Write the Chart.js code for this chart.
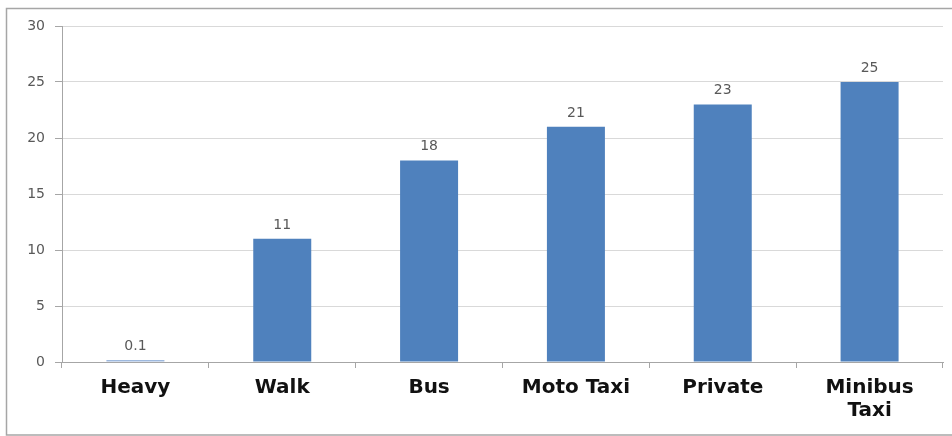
<!DOCTYPE html>
<html>
<head>
<meta charset="utf-8">
<script src="https://cdn.jsdelivr.net/npm/chart.js@4"></script>
<style>
html,body{margin:0;padding:0;background:#fff;}
#wrap{position:relative;width:952px;height:436px;}
</style>
</head>
<body>
<div id="wrap"><canvas id="c" width="952" height="436"></canvas></div>
<script>
const categories = ["Heavy", "Walk", "Bus", "Moto Taxi", "Private", ["Minibus", "Taxi"]];
const values = [0.1, 11, 18, 21, 23, 25];
const valueLabels = ["0.1", "11", "18", "21", "23", "25"];
const yTicks = [0, 5, 10, 15, 20, 25, 30];

const frame = {
  id: 'frame',
  beforeDraw(chart) {
    const ctx = chart.ctx;
    ctx.save();
    ctx.strokeStyle = '#a6a6a6';
    ctx.lineWidth = 1.5;
    ctx.strokeRect(6.5, 8.5, 970, 426.5);
    ctx.restore();
  }
};

const valueLabelPlugin = {
  id: 'valueLabels',
  afterDatasetsDraw(chart) {
    const ctx = chart.ctx;
    const meta = chart.getDatasetMeta(0);
    ctx.save();
    ctx.font = '14px "DejaVu Sans"';
    ctx.fillStyle = '#595959';
    ctx.textAlign = 'center';
    ctx.textBaseline = 'alphabetic';
    meta.data.forEach((bar, i) => {
      ctx.fillText(valueLabels[i], bar.x, bar.y - 10);
    });
    ctx.restore();
  }
};

new Chart(document.getElementById('c'), {
  type: 'bar',
  data: {
    labels: categories,
    datasets: [{
      data: values,
      backgroundColor: ['#9DB8DD', '#4F81BD', '#4F81BD', '#4F81BD', '#4F81BD', '#4F81BD'],
      borderWidth: 0,
      minBarLength: 2,
      barPercentage: 0.395,
      categoryPercentage: 1.0
    }]
  },
  options: {
    responsive: false,
    animation: false,
    devicePixelRatio: 1,
    layout: { padding: { top: 26, right: 9, left: 0, bottom: 0 } },
    plugins: { legend: { display: false }, tooltip: { enabled: false } },
    scales: {
      x: {
        offset: true,
        grid: {
          display: true,
          offset: true,
          drawOnChartArea: false,
          drawTicks: true,
          tickLength: 6,
          tickColor: '#a6a6a6',
          color: '#a6a6a6'
        },
        border: { display: true, color: '#a6a6a6', width: 1 },
        ticks: {
          color: '#111',
          font: { family: '"DejaVu Sans"', size: 20, weight: 'bold', lineHeight: 1.15 },
          padding: 8,
          maxRotation: 0,
          autoSkip: false
        },
        afterFit(scale) { scale.height = 74; }
      },
      y: {
        min: 0,
        max: 30,
        afterBuildTicks(scale) { scale.ticks = yTicks.map(v => ({ value: v })); },
        grid: {
          color: '#d9d9d9',
          tickColor: '#a6a6a6',
          tickLength: 7,
          drawTicks: true
        },
        border: { display: true, color: '#a6a6a6', width: 1 },
        ticks: {
          color: '#595959',
          font: { family: '"DejaVu Sans"', size: 14 },
          padding: 10
        },
        afterFit(scale) { scale.width = 62; }
      }
    }
  },
  plugins: [frame, valueLabelPlugin]
});
</script>
</body>
</html>
